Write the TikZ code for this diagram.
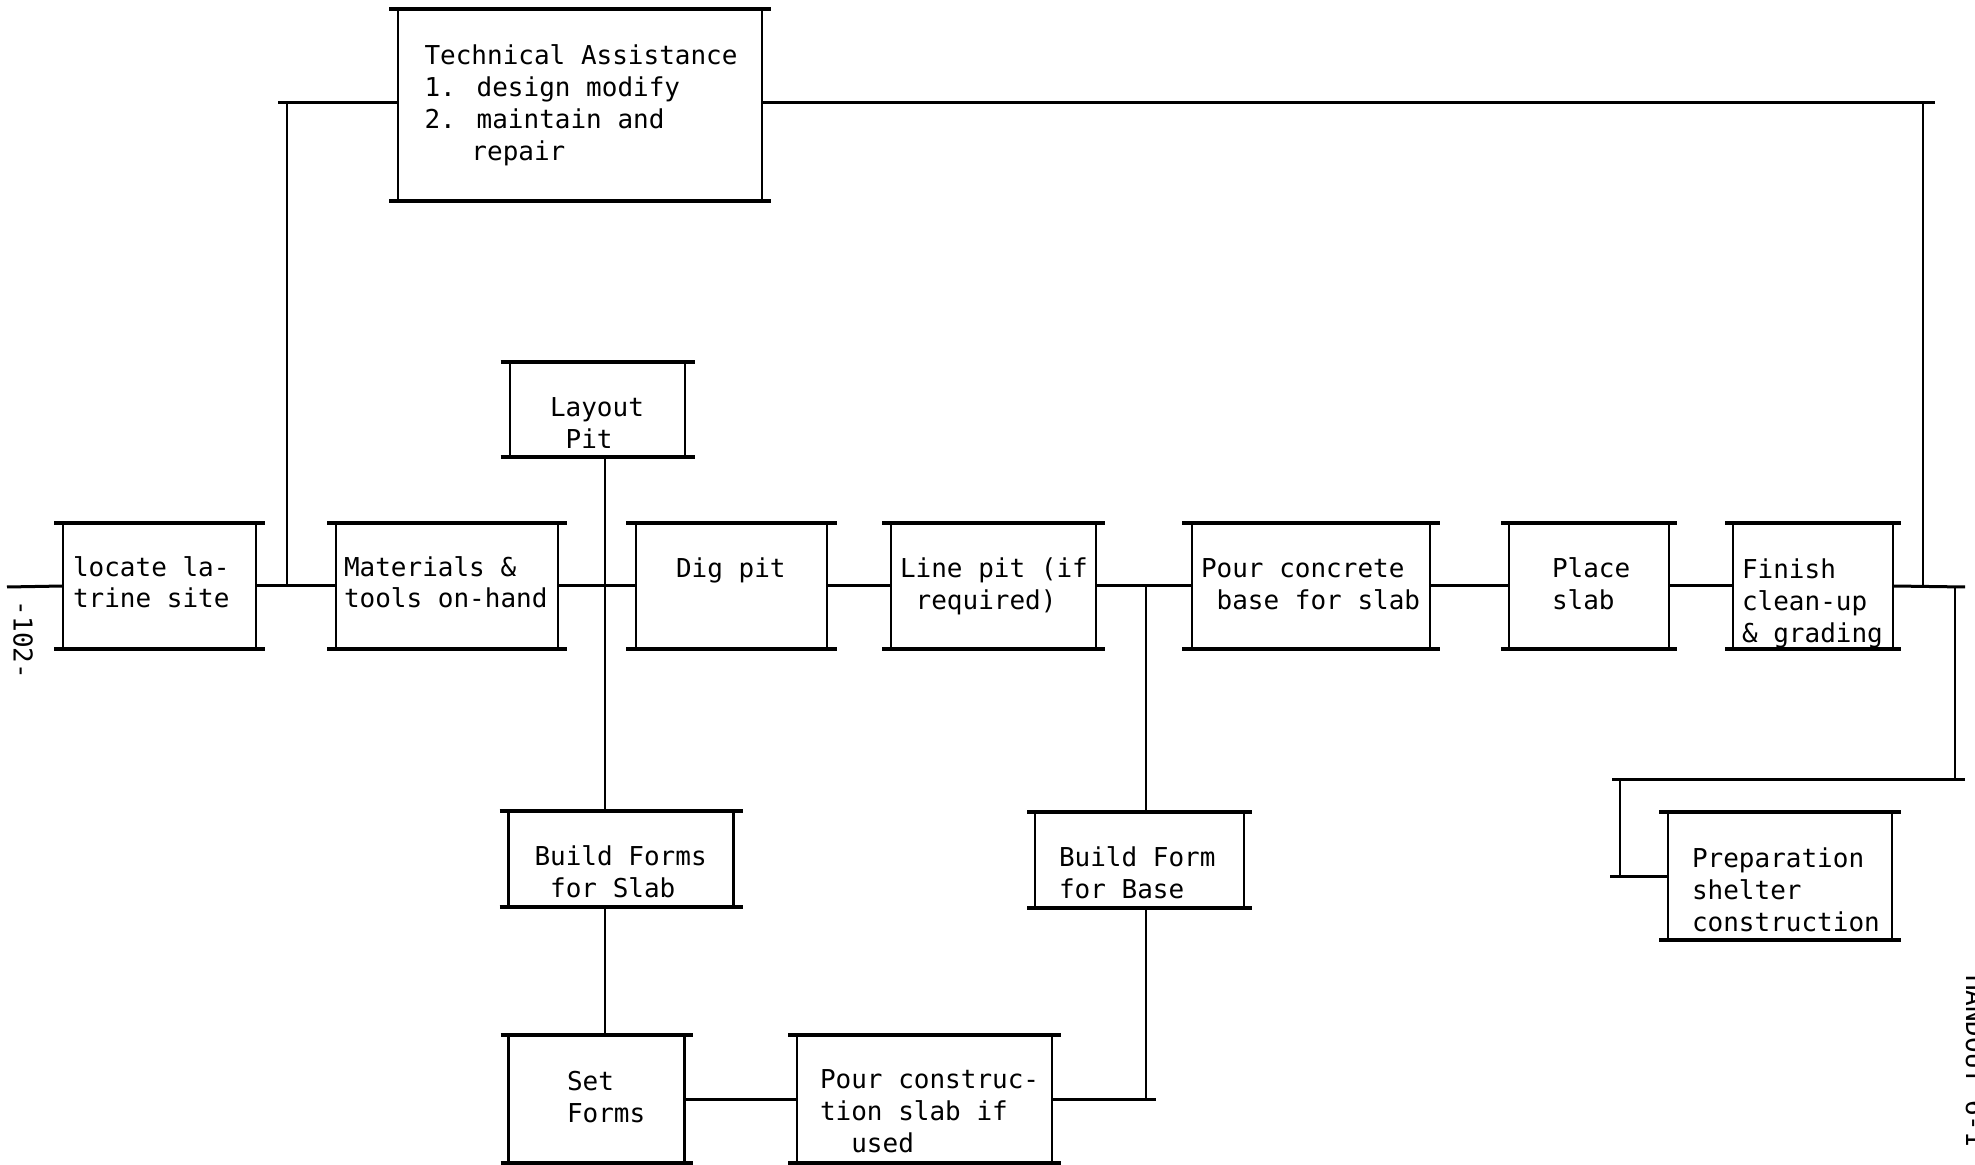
\documentclass[tikz,border=0pt]{standalone}
\usepackage{fontspec}
\newfontfamily\tw{DejaVu Sans Mono}
\tikzset{
  hl/.style={line width=1.6pt},
  vl/.style={line width=1.1pt},
  hc/.style={line width=1.5pt},
  vc/.style={line width=1.1pt},
  boxnode/.style={inner sep=0pt, outer sep=0pt, draw=none, rectangle},
  txt/.style={inner sep=0pt, outer sep=0pt, font=\tw\fontsize{13}{16}\selectfont, align=left, anchor=base west},
}
% #1 name, #2 left vertical x, #3 right vertical x, #4 top y, #5 bottom y, #6 extension of the horizontals
\newcommand\bbox[6]{%
  \pgfmathsetmacro\bw{(#3-#2)*0.5}%
  \pgfmathsetmacro\bh{(#5-#4)*0.5}%
  \node[boxnode, minimum width=\bw pt, minimum height=\bh pt] (#1) at ({(#2+#3)/2},{(#4+#5)/2}) {};
  \draw[hl] ([xshift=-#6*0.5pt]#1.north west) -- ([xshift=#6*0.5pt]#1.north east);
  \draw[hl] ([xshift=-#6*0.5pt]#1.south west) -- ([xshift=#6*0.5pt]#1.south east);
  \draw[vl] (#1.north west) -- (#1.south west);
  \draw[vl] (#1.north east) -- (#1.south east);
}
\begin{document}
\begin{tikzpicture}[x=0.5pt,y=-0.5pt]
\useasboundingbox (0,0) rectangle (1975,1165);
% boxes
\bbox{tech}{398}{762}{9}{201}{9}
\bbox{layout}{510}{685}{362}{457}{9.5}
\bbox{locate}{63}{256}{523}{649}{9}
\bbox{mat}{336}{558}{523}{649}{9}
\bbox{dig}{636}{827}{523}{649}{10}
\bbox{line}{891}{1096}{523}{649}{9}
\bbox{pour}{1192}{1430}{523}{649}{10}
\bbox{place}{1509}{1669}{523}{649}{8}
\bbox{finish}{1733}{1893}{523}{649}{8}
\bbox{prep}{1668}{1892}{812}{940}{9}
\bbox{bfs}{508.5}{733.5}{811}{907}{9}
\bbox{bfb}{1035}{1244}{812}{908}{8}
\bbox{set}{508.5}{684.5}{1035}{1163}{8}
\bbox{pc}{797}{1052}{1035}{1163}{9}
% texts (anchor = baseline of the last line)
\node[txt] (tech-t) at (424.5,161) {Technical Assistance\\1. design modify\\2. maintain and\\\phantom{12.}repair};
\node[txt] (layout-t) at (550,449) {Layout\\\phantom{x}Pit};
\node[txt] (locate-t) at (73,608) {locate la-\\trine site};
\node[txt] (mat-t) at (344,608) {Materials \&\\tools on-hand};
\node[txt] (dig-t) at (676,577) {Dig pit};
\node[txt] (line-t) at (900,610) {Line pit (if\\\phantom{x}required)};
\node[txt] (pour-t) at (1201,610) {Pour concrete\\\phantom{x}base for slab};
\node[txt] (place-t) at (1552,610) {Place\\slab};
\node[txt] (finish-t) at (1742,642) {Finish\\clean-up\\\& grading};
\node[txt] (prep-t) at (1692,931) {Preparation\\shelter\\construction};
\node[txt] (bfs-t) at (534.5,897) {Build Forms\\\phantom{x}for Slab};
\node[txt] (bfb-t) at (1059,898) {Build Form\\for Base};
\node[txt] (set-t) at (567,1122) {Set\\Forms};
\node[txt] (pc-t) at (820,1152) {Pour construc-\\tion slab if\\\phantom{xx}used};
\node[txt, rotate=-90, anchor=center] (pg) at (23,640) {-102-};
\node[txt, rotate=-90, anchor=base west] (ho) at (1966,975) {HANDOUT 6-1};
% junction coordinates
\coordinate (lstart) at (7,587);
\coordinate (tl) at (287,103);
\coordinate (js) at (605,587);
\coordinate (jb) at (1146,587);
\coordinate (tr) at (1923,103);
\coordinate (rr) at (1965,587);
\coordinate (rd) at (1955,779);
\coordinate (ld) at (1620,779);
% main row connectors
\draw[hc] (lstart) -- (locate.west);
\draw[hc] (locate.east) -- (mat.west);
\draw[hc] (mat.east) -- (dig.west);
\draw[hc] (dig.east) -- (line.west);
\draw[hc] (line.east) -- (pour.west);
\draw[hc] (pour.east) -- (place.west);
\draw[hc] (place.east) -- (finish.west);
\draw[hc] (finish.east) -- (rr);
% technical assistance
\draw[hc] ([xshift=-4.5pt]tl) -- (tech.west |- tl);
\draw[vc] (tl) -- (tl |- locate.east);
\draw[hc] (tech.east |- tr) -- ([xshift=6pt]tr);
\draw[vc] (tr) -- (tr |- finish.east);
% layout pit / forms for slab
\draw[vc] (layout.south -| js) -- (bfs.north -| js);
\draw[vc] (bfs.south -| js) -- (set.north -| js);
\draw[hc] (set.east) -- (pc.west);
% form for base
\draw[vc] (jb) -- (bfb.north -| jb);
\draw[vc] (bfb.south -| jb) -- (jb |- pc.east);
\draw[hc] (pc.east) -- ([xshift=5pt]jb |- pc.east);
% preparation shelter
\draw[vc] (rd |- rr) -- (rd);
\draw[hc] ([xshift=5pt]rd) -- ([xshift=-4pt]ld);
\draw[vc] (ld) -- (ld |- prep.west);
\draw[hc] ([xshift=-5pt]ld |- prep.west) -- (prep.west);
\end{tikzpicture}
\end{document}
